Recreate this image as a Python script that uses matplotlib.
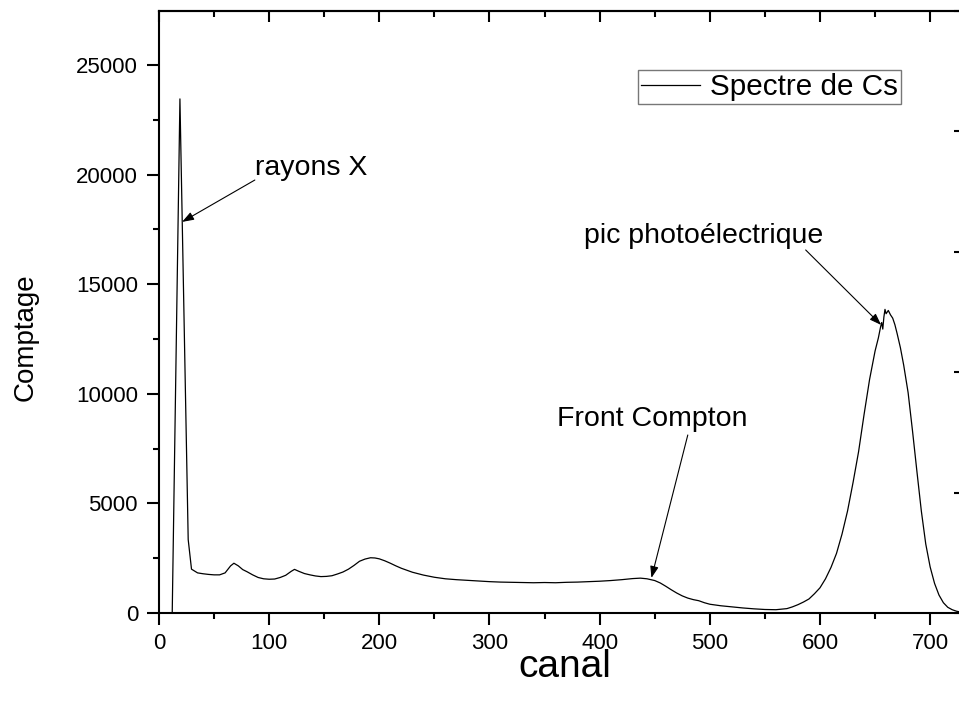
import numpy as np
import matplotlib
matplotlib.use("Agg")
import matplotlib.pyplot as plt
from matplotlib.ticker import MultipleLocator

plt.rcParams["font.family"] = ["Liberation Sans", "DejaVu Sans"]

# spectrum (channel, counts)
canal = [0, 12, 19, 26.5, 29.5, 35, 40, 45, 50, 55, 60, 65, 68, 72, 76, 80, 85, 90, 95,
         100, 105, 110, 115, 120, 123, 127, 132, 137, 142, 147, 152, 157, 162, 167,
         172, 177, 182, 187, 192, 196, 200, 205, 210, 215, 220, 225, 230, 240, 250,
         260, 270, 280, 290, 300, 310, 320, 330, 340, 350, 360, 370, 380, 390, 400,
         410, 420, 430, 437, 443, 450, 455, 460, 465, 470, 475, 480, 485, 490, 495,
         500, 510, 520, 530, 540, 550, 560, 570, 575, 580, 585, 590, 595, 600, 605,
         610, 615, 620, 625, 630, 635, 640, 645, 650, 653, 655, 656, 657, 658, 659,
         660, 662, 664, 666, 668, 670, 673, 676, 680, 684, 688, 692, 696, 700, 704,
         708, 712, 716, 720, 724, 727]
comptage = [0, 0, 23450, 3350, 2000, 1830, 1790, 1760, 1740, 1740, 1830, 2150, 2270,
            2150, 1980, 1880, 1740, 1620, 1560, 1540, 1550, 1620, 1720, 1900, 1990,
            1900, 1800, 1740, 1690, 1660, 1670, 1700, 1780, 1870, 2000, 2170, 2360,
            2460, 2520, 2510, 2470, 2380, 2270, 2150, 2040, 1950, 1860, 1730, 1630,
            1560, 1520, 1490, 1460, 1430, 1410, 1400, 1390, 1380, 1390, 1380, 1400,
            1410, 1430, 1450, 1480, 1520, 1570, 1590, 1560, 1480, 1370, 1220, 1060,
            910, 780, 680, 610, 560, 470, 400, 330, 280, 230, 190, 160, 150, 200,
            280, 380, 500, 640, 880, 1150, 1560, 2080, 2720, 3600, 4650, 5950, 7350,
            9050, 10650, 11950, 12550, 13050, 13250, 12950, 13500, 13850, 13650,
            13800, 13600, 13450, 13150, 12750, 12100, 11300, 10050, 8300, 6450, 4650,
            3150, 2100, 1350, 820, 470, 260, 150, 80, 50]

W, H = 959, 704
fig = plt.figure(figsize=(W / 100, H / 100), dpi=100)
ax = fig.add_axes([159 / W, (H - 613) / H, (961 - 159) / W, (613 - 11) / H])

ax.plot(canal, comptage, color="black", lw=0.9, label="Spectre de Cs")
ax.set_xlim(0, 728)
ax.set_ylim(0, 27460)

ax.xaxis.set_major_locator(MultipleLocator(100))
ax.xaxis.set_minor_locator(MultipleLocator(50))
ax.yaxis.set_major_locator(MultipleLocator(5000))
ax.yaxis.set_minor_locator(MultipleLocator(2500))
ax.tick_params(which="both", direction="out", width=1.5, labelsize=16, top=False, right=False)
ax.tick_params(which="major", length=8.6)
ax.tick_params(which="minor", length=4.3)
ax.tick_params(axis="x", pad=5.5)
ax.tick_params(axis="y", pad=6.5)
for s in ["left", "bottom", "top"]:
    ax.spines[s].set_linewidth(1.5)
ax.spines["right"].set_visible(False)

top = ax.secondary_xaxis("top")
top.xaxis.set_major_locator(MultipleLocator(100))
top.xaxis.set_minor_locator(MultipleLocator(50))
top.tick_params(which="both", direction="in", width=1.5, labeltop=False)
top.tick_params(which="major", length=8)
top.tick_params(which="minor", length=4)
top.spines["top"].set_linewidth(1.5)

right = ax.twinx()
right.set_ylim(0, 5)
right.yaxis.set_major_locator(MultipleLocator(1))
right.yaxis.set_minor_locator(MultipleLocator(0.5))
right.tick_params(which="both", direction="in", width=1.5, labelright=False)
right.tick_params(which="major", length=5)
right.tick_params(which="minor", length=1.5)
for s in right.spines.values():
    s.set_visible(False)

ax.set_xlabel("canal", fontsize=28)
ax.xaxis.set_label_coords(0.506, -0.059)
ax.set_ylabel("Comptage", fontsize=20, labelpad=27)
ax.yaxis.label.set_y(0.458)

arrow = dict(arrowstyle="-|>,head_length=0.7,head_width=0.25", color="black",
             lw=0.8, shrinkA=0, shrinkB=0)
ax.text(87, 20300, "rayons X", fontsize=20.5, va="center", ha="left")
ax.annotate("", xy=(21, 17840), xytext=(87, 19750), arrowprops=arrow)
ax.text(386, 17200, "pic photoélectrique", fontsize=20.5, va="center", ha="left")
ax.annotate("", xy=(655.5, 13140), xytext=(587, 16560), arrowprops=arrow)
ax.text(361, 8850, "Front Compton", fontsize=20.5, va="center", ha="left")
ax.annotate("", xy=(447, 1600), xytext=(480, 8120), arrowprops=arrow)

leg = ax.legend(loc="upper left", bbox_to_anchor=(0.597, 0.902), fontsize=21.3,
                frameon=True, fancybox=False, handlelength=2.0, handletextpad=0.35,
                borderpad=0.1, borderaxespad=0)
leg.get_frame().set_edgecolor("#555555")
leg.get_frame().set_linewidth(1.0)

fig.savefig("out.png", dpi=100)
